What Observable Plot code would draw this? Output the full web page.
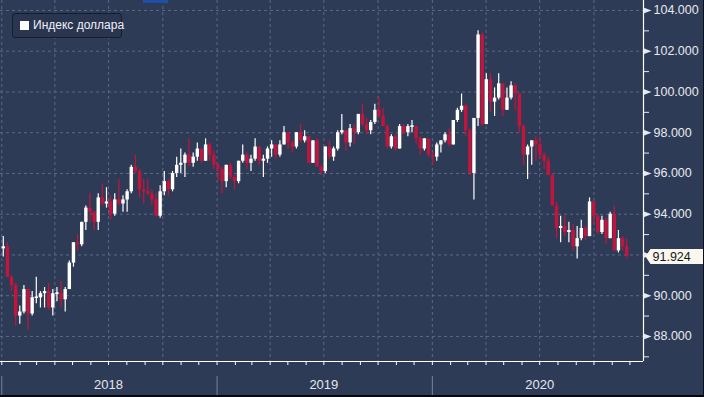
<!DOCTYPE html>
<html><head><meta charset="utf-8">
<script src="https://cdn.jsdelivr.net/npm/d3@7"></script>
<script src="https://cdn.jsdelivr.net/npm/@observablehq/plot@0.6"></script>
<style>
html,body{margin:0;padding:0;background:#2e3b56;}
#wrap{position:relative;width:704px;height:397px;overflow:hidden;background:#2e3b56;}
#legend{position:absolute;left:12px;top:13px;width:110px;height:25px;box-sizing:border-box;border:1px solid #161d2e;border-radius:3px;background:#2a3550;font:12px "Liberation Sans",Arial,sans-serif;color:#eef1f6;line-height:23px;padding-left:20px;white-space:nowrap;}
#legend .sw{position:absolute;left:7px;top:7px;width:9px;height:9px;background:#ffffff;}
#bluebit{position:absolute;left:143px;top:0;width:25px;height:3px;background:#1f4fa6;}
#bottomline{position:absolute;left:0;bottom:0;width:704px;height:2px;background:#05070c;}
#rightline{position:absolute;right:0;top:0;width:1px;height:397px;background:#0b0f18;}
svg{display:block;}
</style>
</head><body>
<div id="wrap">
  <div id="chart"></div>
  <div id="bluebit"></div>
  <div id="legend"><span class="sw"></span>Индекс доллара</div>
  <div id="bottomline"></div>
  <div id="rightline"></div>
</div>
<script>
// Weekly candles (week starting Monday), Dollar index
const firstOpen = 92.3;
const closes = [
  92.4, 90.9, 90.5, 89.0, 89.2, 90.3, 89.1, 89.9, 89.9, 90.1,
  90.2, 89.4, 90.1, 90.1, 89.8, 90.3, 91.6, 92.6, 92.5, 93.6,
  94.3, 94.1, 93.6, 94.8, 94.5, 94.6, 94.0, 94.7, 94.5, 94.7,
  95.1, 96.3, 96.1, 95.2, 95.1, 95.0, 94.7, 93.9, 95.1, 95.6,
  95.2, 96.0, 96.4, 96.5, 96.9, 96.5, 96.8, 97.2, 96.6, 97.4,
  96.9, 96.4, 96.2, 95.6, 96.4, 95.8, 95.6, 96.6, 96.9, 96.5,
  96.7, 97.3, 96.6, 96.7, 97.2, 97.4, 96.9, 97.4, 98.0, 97.5,
  97.3, 98.0, 97.6, 97.8, 96.5, 97.6, 96.3, 96.1, 97.3, 96.8,
  97.2, 98.0, 98.1, 97.5, 98.2, 98.0, 98.9, 98.4, 98.1, 98.5,
  99.1, 98.8, 98.3, 97.3, 97.8, 97.2, 98.3, 98.0, 98.3, 98.3,
  97.7, 97.2, 97.7, 96.9, 96.8, 97.4, 97.6, 97.9, 97.4, 98.6,
  99.1, 99.3, 98.1, 96.0, 98.7, 102.8, 98.4, 100.6, 99.5, 99.7,
  100.4, 99.1, 99.7, 100.3, 99.9, 98.3, 96.9, 97.3, 97.6, 97.4,
  96.9, 96.6, 95.9, 94.4, 93.3, 93.4, 93.1, 93.2, 92.4, 92.8,
  93.3, 92.9, 94.6, 93.9, 93.1, 93.7, 92.8, 94.0, 92.2, 92.8,
  92.4, 91.924
];
const highs = [
  92.9, 92.6, 91.0, 90.6, 89.5, 90.5, 90.3, 90.2, 90.9, 90.2,
  90.4, 90.6, 90.3, 90.4, 90.7, 90.4, 91.7, 92.6, 93.0, 93.6,
  94.4, 95.0, 94.1, 95.0, 95.5, 95.3, 94.9, 95.0, 95.7, 94.9,
  95.2, 96.4, 96.9, 96.2, 95.7, 95.7, 95.2, 95.0, 95.4, 96.1,
  95.7, 96.1, 96.8, 97.2, 97.0, 97.7, 97.0, 97.5, 97.2, 97.7,
  97.5, 97.1, 96.5, 96.3, 96.4, 96.5, 95.9, 96.6, 97.4, 97.0,
  96.9, 97.7, 97.3, 96.9, 97.3, 97.6, 97.4, 97.6, 98.3, 98.0,
  97.6, 98.0, 98.4, 98.1, 97.8, 97.6, 97.7, 96.4, 97.3, 97.6,
  97.3, 98.1, 98.9, 98.1, 98.4, 98.4, 98.9, 99.4, 98.7, 98.6,
  99.4, 99.7, 99.2, 98.4, 97.9, 97.9, 98.4, 98.4, 98.4, 98.6,
  98.3, 97.8, 97.7, 97.7, 97.0, 97.5, 97.6, 98.0, 98.2, 98.6,
  99.2, 99.9, 99.4, 98.2, 98.7, 103.0, 102.9, 100.9, 100.9, 100.2,
  100.9, 100.4, 100.2, 100.5, 100.4, 99.9, 98.4, 97.4, 97.6, 97.8,
  97.8, 97.0, 96.8, 96.0, 94.6, 93.9, 93.9, 93.6, 93.5, 93.4,
  93.7, 93.4, 94.8, 94.6, 94.0, 93.9, 93.8, 94.1, 94.4, 93.2,
  92.9, 92.8
];
const lows = [
  91.9, 90.9, 90.2, 88.5, 88.6, 89.1, 88.3, 89.0, 89.6, 89.4,
  89.4, 89.3, 89.0, 89.7, 89.4, 89.2, 90.3, 91.4, 92.2, 92.4,
  93.2, 93.6, 93.2, 93.2, 94.4, 94.3, 93.7, 93.9, 94.4, 94.1,
  94.1, 95.0, 96.0, 94.8, 94.5, 94.9, 94.4, 93.9, 93.8, 94.9,
  94.9, 95.1, 95.8, 96.0, 95.8, 96.3, 96.3, 96.6, 96.5, 96.6,
  96.6, 96.2, 95.6, 95.0, 95.3, 95.7, 95.2, 95.5, 96.5, 96.2,
  96.1, 96.6, 96.4, 95.8, 96.5, 96.8, 96.7, 96.8, 97.4, 97.2,
  97.0, 97.2, 97.5, 97.5, 96.5, 96.5, 96.3, 95.9, 96.0, 96.7,
  96.6, 97.1, 97.9, 97.1, 97.3, 97.4, 97.9, 98.3, 97.9, 97.9,
  98.4, 98.7, 98.3, 97.2, 97.2, 97.1, 97.2, 97.9, 97.8, 98.0,
  97.4, 96.9, 97.1, 96.8, 96.4, 96.6, 97.0, 97.5, 97.3, 97.4,
  98.5, 99.0, 97.8, 95.9, 94.7, 98.3, 98.3, 98.4, 99.0, 98.8,
  99.6, 98.8, 99.1, 99.6, 99.1, 98.0, 96.4, 95.7, 96.4, 96.6,
  96.7, 96.2, 95.9, 94.4, 92.8, 92.6, 92.9, 92.6, 92.2, 91.8,
  92.7, 92.7, 92.9, 93.5, 93.0, 93.0, 92.5, 92.8, 92.2, 92.1,
  92.2, 91.8
];
const yLabelTicks = [88, 90, 92, 94, 96, 98, 100, 102, 104];
const yMinorTicks = [87, 89, 91, 93, 95, 97, 99, 101, 103];
const yearLabels = [2018, 2019, 2020];

const upColor = "#ffffff", downColor = "#c4143d", gridColor = "#5b6986", axisColor = "#e6e9ef";
const weekStarts = d3.utcMonday.range(new Date(Date.UTC(2018, 0, 1)), new Date(Date.UTC(2020, 10, 24)));
const candles = closes.map((c, i) => {
  const open = i ? closes[i - 1] : firstOpen;
  return {
    date: d3.utcHour.offset(weekStarts[i], 60),
    open, close: c, high: highs[i], low: lows[i],
    b1: Math.min(open, c) - (Math.abs(open - c) < 0.06 ? 0.04 : 0),
    b2: Math.max(open, c) + (Math.abs(open - c) < 0.06 ? 0.04 : 0),
    color: c >= open ? upColor : downColor
  };
});
const last = closes[closes.length - 1];
const xStart = new Date("2017-12-29T19:00:00Z"), xEnd = new Date("2020-12-24T00:00:00Z");
const yMin = 86.77, yMax = 104.49;
const quarterStarts = d3.utcMonth.every(3).range(new Date(Date.UTC(2018, 0, 1)), xEnd);
const monthStarts = d3.utcMonth.range(new Date(Date.UTC(2018, 0, 1)), xEnd);
const yearStarts = yearLabels.map(y => new Date(Date.UTC(y, 0, 1)));
const yearMids = yearLabels.map(y => new Date(Date.UTC(y, 6, 1)));

const triSymbol = {draw(ctx) { ctx.moveTo(-4, -3); ctx.lineTo(4, 0); ctx.lineTo(-4, 3); ctx.closePath(); }};
const calloutSymbol = {draw(ctx) { ctx.moveTo(2, 0); ctx.lineTo(7, -7.5); ctx.lineTo(62, -7.5); ctx.lineTo(62, 7.5); ctx.lineTo(7, 7.5); ctx.closePath(); }};

const chart = Plot.plot({
  width: 704, height: 397,
  marginTop: 0, marginLeft: 0, marginRight: 61, marginBottom: 36,
  style: {background: "transparent", color: axisColor, fontFamily: "'Liberation Sans', Arial, sans-serif", fontSize: "12.5px", overflow: "visible"},
  x: {type: "utc", domain: [xStart, xEnd], label: null},
  y: {domain: [yMin, yMax], label: null},
  color: {type: "identity"},
  marks: [
    Plot.ruleY(yLabelTicks, {stroke: gridColor, strokeDasharray: "3,3"}),
    Plot.ruleX(quarterStarts, {stroke: gridColor, strokeDasharray: "3,3"}),
    Plot.ruleX(candles, {x: "date", y1: "low", y2: "high", stroke: "color", strokeWidth: 1.2}),
    Plot.ruleX(candles, {x: "date", y1: "b1", y2: "b2", stroke: "color", strokeWidth: 3.4}),
    Plot.ruleX([xEnd], {stroke: "#ffffff", strokeWidth: 1.2}),
    Plot.ruleY([yMin], {stroke: "#ffffff", strokeWidth: 1.2}),
    Plot.axisY(yLabelTicks, {anchor: "right", tickSize: 0, tickPadding: 10, tickFormat: d => d.toFixed(3), fill: axisColor, fontSize: 12.5}),
    Plot.axisY(yMinorTicks, {anchor: "right", tickSize: 5, tickFormat: () => "", stroke: axisColor}),
    Plot.dot(yLabelTicks, {y: d => d, frameAnchor: "right", dx: 4, symbol: triSymbol, fill: axisColor, stroke: "none"}),
    Plot.axisX(monthStarts, {tickSize: 4, tickFormat: () => "", stroke: "#ffffff"}),
    Plot.axisX(yearMids, {tickSize: 0, tickPadding: 18, tickFormat: d => d3.utcFormat("%Y")(d), fill: "#e3e7ee", fontSize: 13}),
    Plot.axisX(yearStarts, {tickSize: 21, dy: 15, tickFormat: () => "", stroke: "#76839c"}),
    Plot.dot([last], {y: d => d, frameAnchor: "right", symbol: calloutSymbol, fill: "#fbf7ee", stroke: "none"}),
    Plot.text([last], {y: d => d, frameAnchor: "right", dx: 9, textAnchor: "start", text: d => d.toFixed(3), fill: "#15171f", fontSize: 12.5})
  ]
});
document.getElementById("chart").appendChild(chart);
</script>
</body></html>
